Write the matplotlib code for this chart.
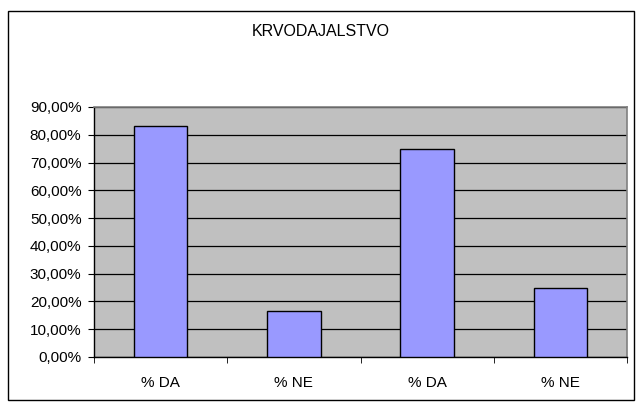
import matplotlib
matplotlib.use("Agg")
import matplotlib.pyplot as plt
from matplotlib.patches import Rectangle
from matplotlib.ticker import FuncFormatter, FixedLocator
import numpy as np

plt.rcParams["font.family"] = ["Liberation Sans", "DejaVu Sans"]

# data
categories = ["% DA", "% NE", "% DA", "% NE"]
values = [83.33, 16.67, 75.0, 25.0]
y_ticks = [0, 10, 20, 30, 40, 50, 60, 70, 80, 90]
title = "KRVODAJALSTVO"

fig = plt.figure(figsize=(6.42, 4.08), dpi=100)
fig.patch.set_facecolor("white")

# outer chart border
fig.patches.append(Rectangle((8 / 642, 1 - 400 / 408), 626 / 642, 389 / 408,
                             transform=fig.transFigure, fill=False,
                             edgecolor="black", linewidth=1.0))

ax = fig.add_axes([94 / 642, 1 - 357 / 408, 533 / 642, 250 / 408])
ax.set_facecolor("#C0C0C0")

x = np.arange(len(categories))
ax.bar(x, values, width=0.4, color="#9999FF", edgecolor="black", linewidth=1.0, zorder=3)

ax.set_xlim(-0.5, len(categories) - 0.5)
ax.set_ylim(0, 90)
ax.set_yticks(y_ticks)
ax.yaxis.set_major_formatter(FuncFormatter(lambda v, p: f"{v:.2f}%".replace(".", ",")))
ax.yaxis.grid(True, color="black", linewidth=0.9, zorder=1)
ax.set_axisbelow(True)

# category labels centered, ticks on boundaries
ax.set_xticks(x)
ax.set_xticklabels(categories)
ax.tick_params(axis="x", which="major", length=0, labelsize=11, pad=14)
ax.xaxis.set_minor_locator(FixedLocator(np.arange(-0.5, len(categories), 1.0)))
ax.tick_params(axis="x", which="minor", length=4, direction="out", color="black")
ax.tick_params(axis="y", length=4, direction="out", labelsize=11, color="black", pad=5)

for side in ["top", "right"]:
    ax.spines[side].set_color("#808080")
    ax.spines[side].set_linewidth(1.2)
for side in ["left", "bottom"]:
    ax.spines[side].set_color("black")
    ax.spines[side].set_linewidth(1.0)

fig.text(0.5, 1 - 31 / 408, title, ha="center", va="center", fontsize=11.5)

fig.savefig("out.png", dpi=100)
